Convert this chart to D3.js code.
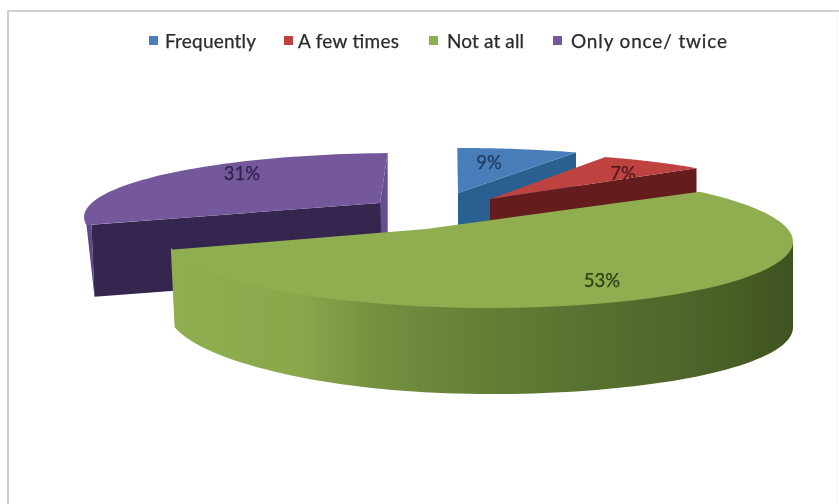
<!DOCTYPE html>
<html><head><meta charset="utf-8">
<script src="https://cdn.jsdelivr.net/npm/d3@7"></script>
<style>html,body{margin:0;padding:0;background:#fff}svg{display:block}text{font-family:Lato,"Open Sans",sans-serif}</style>
</head><body><div id="c"></div>
<script>
// data
const categories = ["Frequently","A few times","Not at all","Only once/ twice"];
const values = [9,7,53,31];
const topColors = ["#4a7ebb","#bd4340","#8fae50","#75599c"];
const wallColors = ["#2a6090","#651a1c","url(#greenWall)","#34264f"];
const labelColors = ["#1f3a5f","#4f1a1c","#2c3f14","#2f2350"];
// layout of each exploded slice on its own foreshortened ellipse
const ellipses = [
  {cx:460,cy:212,rx:316,ry:64,tilt:0,t0:-0.5,warp:0.68,apex:[458,193],depth:[0,40]},
  {cx:490,cy:216.6,rx:316,ry:64,tilt:0,t0:21.4,warp:0.77,apex:[490,199],depth:[0,40]},
  {cx:479,cy:239,rx:314,ry:69,tilt:0.008,t0:44.7,warp:1.123,apex:[426,229],depth:[0,86]},
  {cx:400,cy:217,rx:316,ry:64,tilt:0,t0:262.8,warp:0.851,apex:[380,203],depth:[3,72]}
];
const labelPos = [[489,169],[623,180],[602,287],[242,180]];
const legendMarkX = [149,284,429,553];
const legendTextX = [165,298,447,571];
const legendTextW = [91,101,77,156];

const W=839,H=504;
const svg=d3.select("#c").append("svg").attr("width",W).attr("height",H);
const defs=svg.append("defs");
defs.append("filter").attr("id","soft").attr("x","-5%").attr("y","-5%").attr("width","110%").attr("height","110%")
  .append("feGaussianBlur").attr("stdDeviation",0.6);
const g=defs.append("linearGradient").attr("id","greenWall").attr("gradientUnits","userSpaceOnUse")
  .attr("x1",172).attr("x2",793).attr("y1",0).attr("y2",0);
[[0,"#8fae50"],[0.2,"#8aa84b"],[0.32,"#76913f"],[0.5,"#647f36"],[0.7,"#566f2f"],[0.85,"#4c6429"],[1,"#40521f"]]
  .forEach(([o,c])=>g.append("stop").attr("offset",o).attr("stop-color",c));

const root=svg.append("g").attr("filter","url(#soft)");
// frame
root.append("path").attr("d",`M8,${H} V11 H${W}`).attr("fill","none").attr("stroke","#cfcfcf").attr("stroke-width",2);
root.append("path").attr("d",`M${W-2},11 V${H}`).attr("fill","none").attr("stroke","#f4f4f4").attr("stroke-width",1);

const arcs=d3.pie().sort(null).value(d=>d)(values);
const rad=Math.PI/180, line=d3.line();
const slices=arcs.map((a,i)=>{
  const e=ellipses[i];
  const deg0=a.startAngle/rad, deg1=a.endAngle/rad;
  const tOf=d3.scaleLinear().domain([deg0,deg1]).range([e.t0,e.t0+(deg1-deg0)*e.warp]);
  const pt=t=>{const s=Math.sin(t*rad),c=Math.cos(t*rad);
    return [e.cx+e.rx*s, e.cy-e.ry*c+e.tilt*e.rx*s];};
  const ts=d3.range(0,61).map(k=>tOf(deg0+(deg1-deg0)*k/60));
  return {i,e,pt,ts,t0:ts[0],t1:ts[60],outer:ts.map(pt)};
});
const add=(p,d,k=1)=>[p[0]+d[0]*k,p[1]+d[1]*k];
const poly=(pts,fill)=>root.append("path").attr("d",line(pts)+"Z").attr("fill",fill);
const lerp=(a,b,k)=>[a[0]+(b[0]-a[0])*k,a[1]+(b[1]-a[1])*k];

// Only once/ twice (back left)
{
  const s=slices[3],e=s.e,first=s.outer[0],last=s.outer[60];
  const inner=lerp(first,e.apex,0.017);
  poly([s.pt(272),first,add(inner,e.depth),add(inner,e.depth,0.5),inner],"#5d4884");
  poly([e.apex,last,add(last,[0,80]),add(e.apex,[0,32])],"#65508f");
  poly([e.apex,inner,add(inner,e.depth),add(e.apex,e.depth)],wallColors[3]);
  poly([e.apex,...s.outer],topColors[3]);
}
// Frequently, A few times (back right)
[0,1].forEach(i=>{
  const s=slices[i],e=s.e,last=s.outer[60];
  poly([e.apex,last,add(last,e.depth),add(e.apex,e.depth)],wallColors[i]);
  poly([e.apex,...s.outer],topColors[i]);
});
// Not at all (front)
{
  const s=slices[2],e=s.e;
  const ts=d3.range(90,s.t1,2).concat([s.t1]);
  const top=ts.map(t=>add(s.pt(t),[0,-2]));
  const bot=ts.map(t=>{const p=s.pt(t),x=Math.max(0,-Math.sin(t*rad));
    return [p[0]+4*x*x*x, p[1]+e.depth[1]-9*x*x];});
  poly(top.concat(bot.reverse()),wallColors[2]);
  poly([e.apex,...s.outer],topColors[2]);
}
// data labels
root.selectAll("text.lab").data(values).join("text").attr("class","lab")
  .attr("x",(d,i)=>labelPos[i][0]).attr("y",(d,i)=>labelPos[i][1])
  .attr("text-anchor","middle").attr("font-size",18.5).attr("fill",(d,i)=>labelColors[i])
  .attr("stroke",(d,i)=>labelColors[i]).attr("stroke-width",0.25).text(d=>d+"%");
// legend
root.selectAll("rect.lg").data(categories).join("rect").attr("class","lg")
  .attr("x",(d,i)=>legendMarkX[i]).attr("y",36).attr("width",9).attr("height",9)
  .attr("fill",(d,i)=>topColors[i]);
root.selectAll("text.lg").data(categories).join("text").attr("class","lg")
  .attr("x",(d,i)=>legendTextX[i]).attr("y",47.5).attr("font-size",19)
  .attr("textLength",(d,i)=>legendTextW[i]).attr("lengthAdjust","spacing")
  .attr("fill","#2b2b2b").attr("stroke","#2b2b2b").attr("stroke-width",0.25).text(d=>d);
</script></body></html>
